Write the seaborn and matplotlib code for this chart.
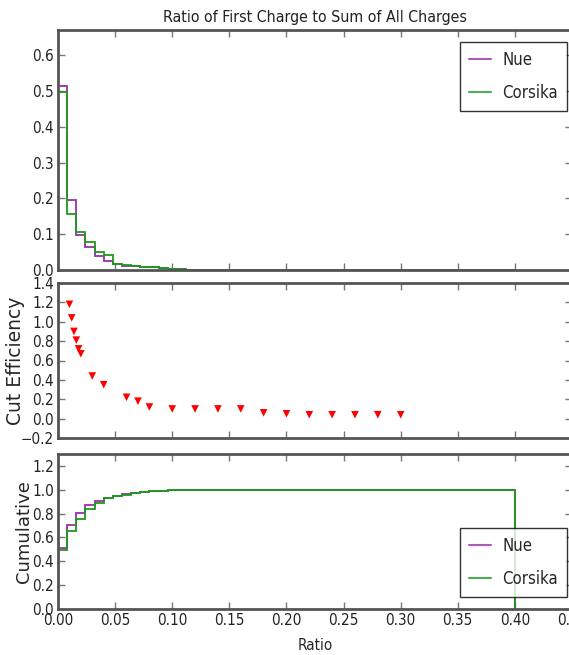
import numpy as np
import pandas as pd
import matplotlib
matplotlib.use("Agg")
import matplotlib.pyplot as plt
from matplotlib.lines import Line2D
import seaborn as sns

# ---- data ----
bin_edges = np.linspace(0.0, 0.40, 51)  # 50 bins of width 0.008
nue_frac = [0.513, 0.195, 0.097, 0.064, 0.040, 0.025, 0.016, 0.012, 0.010, 0.008,
            0.007, 0.006, 0.004, 0.003]
corsika_frac = [0.497, 0.155, 0.106, 0.079, 0.051, 0.041, 0.018, 0.013, 0.011, 0.009,
                0.007, 0.005, 0.004, 0.003, 0.001]
cut_ratio = [0.01, 0.012, 0.014, 0.016, 0.018, 0.02, 0.03, 0.04, 0.06, 0.07, 0.08,
             0.10, 0.12, 0.14, 0.16, 0.18, 0.20, 0.22, 0.24, 0.26, 0.28, 0.30]
cut_eff = [1.18, 1.04, 0.90, 0.81, 0.72, 0.67, 0.44, 0.35, 0.22, 0.18, 0.12,
           0.10, 0.10, 0.10, 0.10, 0.06, 0.05, 0.04, 0.04, 0.04, 0.04, 0.04]
series_names = ["Nue", "Corsika"]
x_ticks = [0.00, 0.05, 0.10, 0.15, 0.20, 0.25, 0.30, 0.35, 0.40, 0.45]

sns.set_theme(style="white")
plt.rcParams["font.family"] = ["DejaVu Sans"]
plt.rcParams["font.stretch"] = "condensed"

NUE_C = "#9a2fa8"
COR_C = "#1f9a1f"
SPINE_C = "#555555"

def make_df(frac):
    n = len(bin_edges) - 1
    w = np.zeros(n)
    w[:len(frac)] = frac
    centers = (bin_edges[:-1] + bin_edges[1:]) / 2
    return pd.DataFrame({"ratio": centers, "w": w})

df_nue = make_df(nue_frac)
df_cor = make_df(corsika_frac)
df_cut = pd.DataFrame({"ratio": cut_ratio, "eff": cut_eff})

W, H = 569, 655
fig = plt.figure(figsize=(W / 100, H / 100), dpi=100)
left, width = 58 / W, (572 - 58) / W
ax1 = fig.add_axes([left, 1 - 270 / H, width, (270 - 30) / H])
ax2 = fig.add_axes([left, 1 - 438 / H, width, (438 - 283) / H])
ax3 = fig.add_axes([left, 1 - 609 / H, width, (609 - 454) / H])

# top histogram
for df, c, name in [(df_nue, NUE_C, series_names[0]), (df_cor, COR_C, series_names[1])]:
    ax1.hist(df["ratio"], bins=bin_edges, weights=df["w"], histtype="step",
             color=c, lw=1.3, label=name)
# middle scatter
sns.scatterplot(data=df_cut, x="ratio", y="eff", ax=ax2, marker="v",
                color="red", s=30, edgecolor="none", legend=False)
# bottom cumulative
for df, c, name in [(df_nue, NUE_C, series_names[0]), (df_cor, COR_C, series_names[1])]:
    ax3.hist(df["ratio"], bins=bin_edges, weights=df["w"], histtype="step",
             cumulative=True, color=c, lw=1.3, label=name)

for ax in (ax1, ax2, ax3):
    ax.set_xlim(0, 0.45)
    ax.set_xticks(x_ticks)
    ax.tick_params(direction="in", length=5, width=1, color="#777777",
                   top=True, right=True, bottom=True, left=True,
                   labelsize=11, pad=3, labelcolor="#222222")
    for s in ax.spines.values():
        s.set_color(SPINE_C)
        s.set_linewidth(2)
    ax.set_xlabel("")
    ax.set_ylabel("")

ax1.set_ylim(0, 0.67)
ax1.set_yticks([0.0, 0.1, 0.2, 0.3, 0.4, 0.5, 0.6])
ax1.tick_params(labelbottom=False)
ax2.set_ylim(-0.2, 1.4)
ax2.set_yticks([-0.2, 0.0, 0.2, 0.4, 0.6, 0.8, 1.0, 1.2, 1.4])
ax2.tick_params(labelbottom=False)
ax3.set_ylim(0, 1.3)
ax3.set_yticks([0.0, 0.2, 0.4, 0.6, 0.8, 1.0, 1.2])
ax3.set_xticklabels([f"{t:.2f}" for t in x_ticks])

ax1.set_title("Ratio of First Charge to Sum of All Charges", fontsize=11.4, pad=6,
              color="#222222")
ax2.set_ylabel("Cut Efficiency", fontsize=13.5, fontstretch="normal")
ax2.yaxis.set_label_coords(-0.064, 0.5)
ax3.set_ylabel("Cumulative", fontsize=13, fontstretch="normal")
ax3.yaxis.set_label_coords(-0.049, 0.5)
ax3.set_xlabel("Ratio", fontsize=11, labelpad=7)

handles = [Line2D([], [], color=NUE_C, lw=1.5, alpha=0.8),
           Line2D([], [], color=COR_C, lw=1.5, alpha=0.8)]
for ax, loc, anchor in [(ax1, "upper right", (567 / W, 1 - 42 / H)),
                        (ax3, "lower right", (567 / W, 1 - 597 / H))]:
    leg = ax.legend(handles, series_names, loc=loc, fontsize=12, frameon=True,
                    fancybox=False, edgecolor="black", borderpad=0.55,
                    handlelength=1.3, handletextpad=0.7, labelspacing=0.9,
                    borderaxespad=0, bbox_to_anchor=anchor,
                    bbox_transform=fig.transFigure)
    leg.get_frame().set_linewidth(1.0)

fig.savefig("out.png", dpi=100)
